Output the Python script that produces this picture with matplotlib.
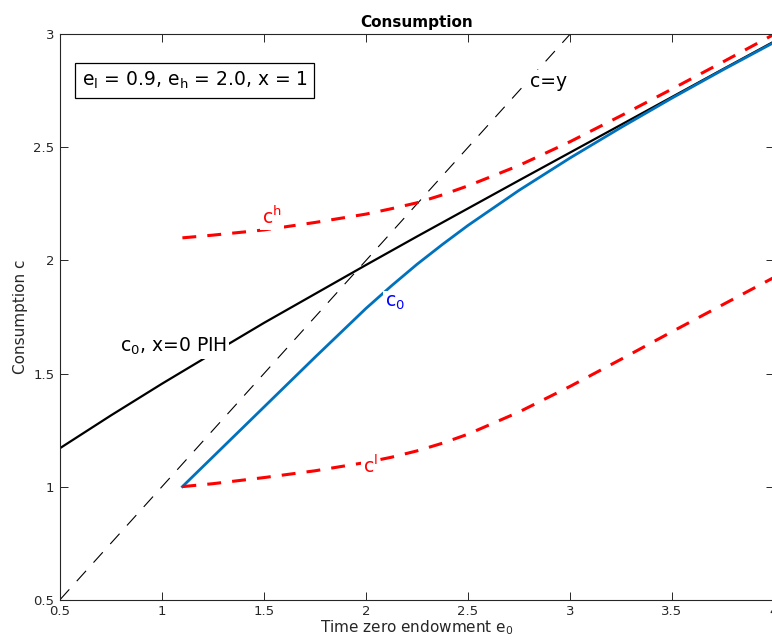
import matplotlib
matplotlib.use('Agg')
from matplotlib import pyplot as plt

plt.rcParams['font.family'] = ['DejaVu Sans']
plt.rcParams['mathtext.fontset'] = 'dejavusans'
plt.rcParams['lines.scale_dashes'] = False

# x=0 PIH consumption (black solid)
e0_pih = [0.5, 0.75, 1.0, 1.25, 1.5, 1.75, 2.0, 2.25, 2.5, 2.75, 3.0, 3.25, 3.5, 3.75, 4.0]
c_pih = [1.17, 1.315, 1.455, 1.59, 1.724, 1.852, 1.98, 2.106, 2.23, 2.354, 2.477, 2.6, 2.723, 2.846, 2.968]

# model solution (blue c0, red c^h / c^l)
e0 = [1.1, 1.25, 1.5, 1.75, 2.0, 2.125, 2.25, 2.375, 2.5, 2.75, 3.0, 3.25, 3.5, 3.75, 4.0]
c0 = [1.0, 1.132, 1.352, 1.572, 1.788, 1.888, 1.983, 2.071, 2.155, 2.31, 2.453, 2.588, 2.718, 2.843, 2.964]
c_high = [2.1, 2.112, 2.135, 2.168, 2.205, 2.229, 2.255, 2.29, 2.33, 2.42, 2.525, 2.64, 2.758, 2.878, 3.0]
c_low = [1.0, 1.013, 1.04, 1.07, 1.107, 1.13, 1.158, 1.192, 1.232, 1.33, 1.443, 1.563, 1.685, 1.805, 1.925]

# 45 degree line c=y
diag = [0.5, 4.0]

x_ticks = [0.5, 1.0, 1.5, 2.0, 2.5, 3.0, 3.5, 4.0]
x_tick_labels = ['0.5', '1', '1.5', '2', '2.5', '3', '3.5', '4']
y_ticks = [0.5, 1.0, 1.5, 2.0, 2.5, 3.0]
y_tick_labels = ['0.5', '1', '1.5', '2', '2.5', '3']

RED = (1, 0, 0)
BLUE_LINE = '#0072BD'
DASH = (0, (10, 8))
LABEL_SIZE = 13.5
WHITE_BOX = {'facecolor': 'white', 'edgecolor': 'none', 'pad': 1.5}

fig = plt.figure(figsize=(7.72, 6.41), dpi=100)
ax = fig.add_axes([60 / 772, 41.3 / 641, 714 / 772, 565.4 / 641])

ax.plot(e0_pih, c_pih, color='black', lw=1.6)
ax.plot(diag, diag, color='black', lw=0.8, linestyle=DASH)
ax.plot(e0, c0, color=BLUE_LINE, lw=2.0)
ax.plot(e0, c_high, color=RED, lw=2.2, linestyle=DASH)
ax.plot(e0, c_low, color=RED, lw=2.2, linestyle=DASH)

# curve labels with white background, like the MATLAB original
ax.text(1.49, 2.162, r'c$^\mathrm{h}$', color=RED, fontsize=LABEL_SIZE, va='baseline', bbox=WHITE_BOX, zorder=5)
ax.text(1.985, 1.06, r'c$^\mathrm{l}$', color=RED, fontsize=LABEL_SIZE, va='baseline', bbox=WHITE_BOX, zorder=5)
ax.text(2.093, 1.796, r'c$_\mathrm{0}$', color='blue', fontsize=LABEL_SIZE, va='baseline', bbox=WHITE_BOX,
        zorder=5)
ax.text(0.794, 1.597, r'c$_\mathrm{0}$, x=0 PIH', color='black', fontsize=LABEL_SIZE, va='baseline',
        bbox=WHITE_BOX, zorder=5)
ax.text(2.804, 2.768, 'c=y', color='black', fontsize=LABEL_SIZE, va='baseline', bbox=WHITE_BOX, zorder=5)
ax.text(0.606, 2.772, r'e$_\mathrm{l}$ = 0.9, e$_\mathrm{h}$ = 2.0, x = 1', color='black', fontsize=LABEL_SIZE,
        va='baseline', zorder=5,
        bbox={'boxstyle': 'square,pad=0.35', 'facecolor': 'white', 'edgecolor': 'black', 'linewidth': 0.9})

ax.set_xlim(0.5, 4.0)
ax.set_ylim(0.5, 3.0)
ax.set_xticks(x_ticks)
ax.set_xticklabels(x_tick_labels)
ax.set_yticks(y_ticks)
ax.set_yticklabels(y_tick_labels)
ax.tick_params(direction='in', top=True, right=True, length=5.5, width=0.7,
               labelsize=9.5, colors='#262626', labelcolor='#262626', pad=4)
for spine in ax.spines.values():
    spine.set_color('#262626')
    spine.set_linewidth(0.8)

ax.set_title('Consumption', fontsize=11, fontweight='bold', color='black', pad=5)
ax.set_xlabel(r'Time zero endowment e$_\mathrm{0}$', fontsize=11, color='#262626', labelpad=0)
ax.set_ylabel('Consumption c', fontsize=11, color='#262626', labelpad=4)

plt.savefig('out.png', dpi=100)
plt.close()
